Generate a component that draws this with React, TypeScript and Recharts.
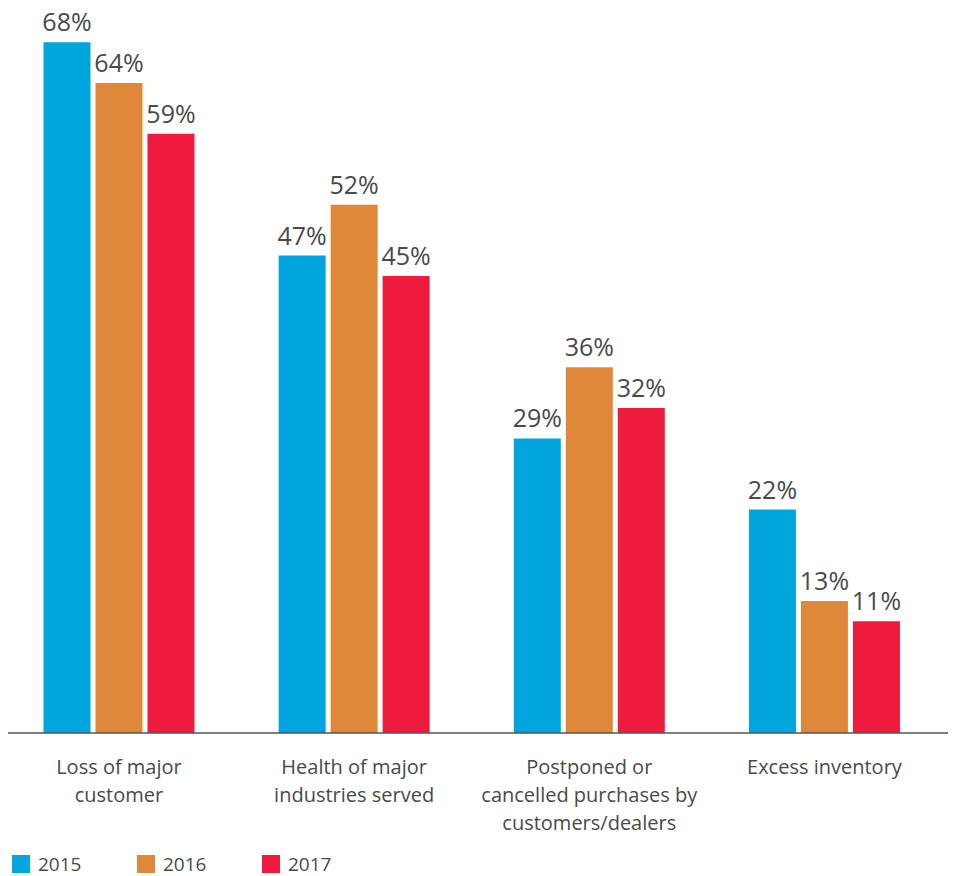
import { BarChart, Bar, XAxis, YAxis, LabelList } from "recharts";

const categories = [
  "Loss of major\ncustomer",
  "Health of major\nindustries served",
  "Postponed or\ncancelled purchases by\ncustomers/dealers",
  "Excess inventory",
];
const values2015 = [68, 47, 29, 22];
const values2016 = [64, 52, 36, 13];
const values2017 = [59, 45, 32, 11];

const series = [
  { key: "y2015", name: "2015", color: "#00a5de" },
  { key: "y2016", name: "2016", color: "#e08839" },
  { key: "y2017", name: "2017", color: "#ee1b3c" },
];

const data = categories.map((c, i) => ({
  category: c,
  y2015: values2015[i],
  y2016: values2016[i],
  y2017: values2017[i],
}));

const FONT = "'Open Sans', sans-serif";
const TEXT = "#4a4a4a";

function CategoryTick({ x, y, payload }: any) {
  const lines = String(payload.value).split("\n");
  return (
    <text x={x} y={y} textAnchor="middle" fill={TEXT} fontSize={20} fontFamily={FONT}>
      {lines.map((l, i) => (
        <tspan key={i} x={x} dy={i === 0 ? 41 : 28}>
          {l}
        </tspan>
      ))}
    </text>
  );
}

export default function App() {
  return (
    <div style={{ position: "absolute", left: 0, top: 0, width: 955, height: 876, background: "#fff", overflow: "hidden" }}>
      <BarChart
        width={955}
        height={876}
        data={data}
        margin={{ top: 22, right: 7, bottom: 43, left: 8 }}
        barCategoryGap="17.9%"
        barGap={5}
      >
        <XAxis
          dataKey="category"
          interval={0}
          tick={<CategoryTick />}
          tickLine={false}
          tickSize={0}
          tickMargin={0}
          axisLine={{ stroke: "#555", strokeWidth: 1.5 }}
          padding={{ left: -6.6, right: 6 }}
          height={100}
        />
        <YAxis hide domain={[0, 70]} />
        {series.map((s) => (
          <Bar key={s.key} dataKey={s.key} name={s.name} fill={s.color} isAnimationActive={false}>
            <LabelList
              dataKey={s.key}
              position="top"
              offset={11}
              formatter={(v: any) => `${v}%`}
              fill={TEXT}
              fontSize={25}
              fontFamily={FONT}
            />
          </Bar>
        ))}
      </BarChart>
      <div style={{ position: "absolute", left: 12, top: 855, display: "flex", fontFamily: FONT, fontSize: 19, lineHeight: "18px", color: TEXT }}>
        {series.map((s) => (
          <div key={s.key} style={{ width: 125, display: "flex", alignItems: "center" }}>
            <span style={{ width: 18, height: 18, background: s.color, display: "inline-block", marginRight: 8 }} />
            <span>{s.name}</span>
          </div>
        ))}
      </div>
    </div>
  );
}
